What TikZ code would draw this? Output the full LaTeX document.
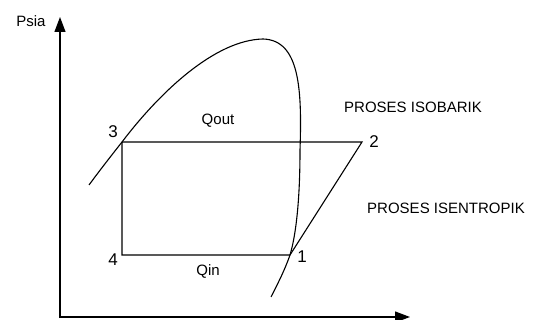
\documentclass[tikz,border=0pt]{standalone}
\usepackage{fontspec}
\setmainfont{Liberation Sans}
\usetikzlibrary{arrows.meta}
\begin{document}
\begin{tikzpicture}[x=1pt,y=-1pt,
  line/.style={line width=1.1pt,black},
  axis/.style={line width=1.2pt,black,-{Triangle[length=15pt,width=11pt]}},
  lbl/.style={inner sep=0pt,font=\fontsize{15}{18}\selectfont},
  num/.style={inner sep=0pt,font=\fontsize{17}{20}\selectfont}]
\useasboundingbox (0,0) rectangle (538,320);
% axes
\coordinate (o) at (60,317);
\coordinate (ytip) at (60,17);
\coordinate (xtip) at (410,317);
\draw[axis] (60,318) -- (ytip);
\draw[axis] (o) -- (xtip);
\node[lbl] (psia) at (31,21) {Psia};
% cycle points
\coordinate (p3) at (122,142);
\coordinate (p2) at (362,142);
\coordinate (p1) at (290,255);
\coordinate (p4) at (122,255);
\draw[line] (p3) -- (p2) -- (p1) -- (p4) -- (p3);
% saturation dome
\coordinate (ds) at (89,185);
\coordinate (dp) at (263,39);
\coordinate (dr) at (300,150);
\coordinate (de) at (271,297);
\draw[line] (ds) .. controls (100,170) and (111,156) .. (p3)
  .. controls (160,92) and (215,40) .. (dp)
  .. controls (300,40) and (302,90) .. (dr)
  .. controls (300,200) and (296,235) .. (p1)
  .. controls (284,272) and (277,285) .. (de);
% labels
\node[num] (l3) at (113,132) {3};
\node[num] (l2) at (374,142) {2};
\node[num] (l1) at (302,257) {1};
\node[num] (l4) at (113,260) {4};
\node[lbl] (qout) at (218,121) {Qout};
\node[lbl] (qin) at (208,271) {Qin};
\node[lbl] (iso) at (413,107) {PROSES ISOBARIK};
\node[lbl] (isen) at (446,208) {PROSES ISENTROPIK};
\end{tikzpicture}
\end{document}
